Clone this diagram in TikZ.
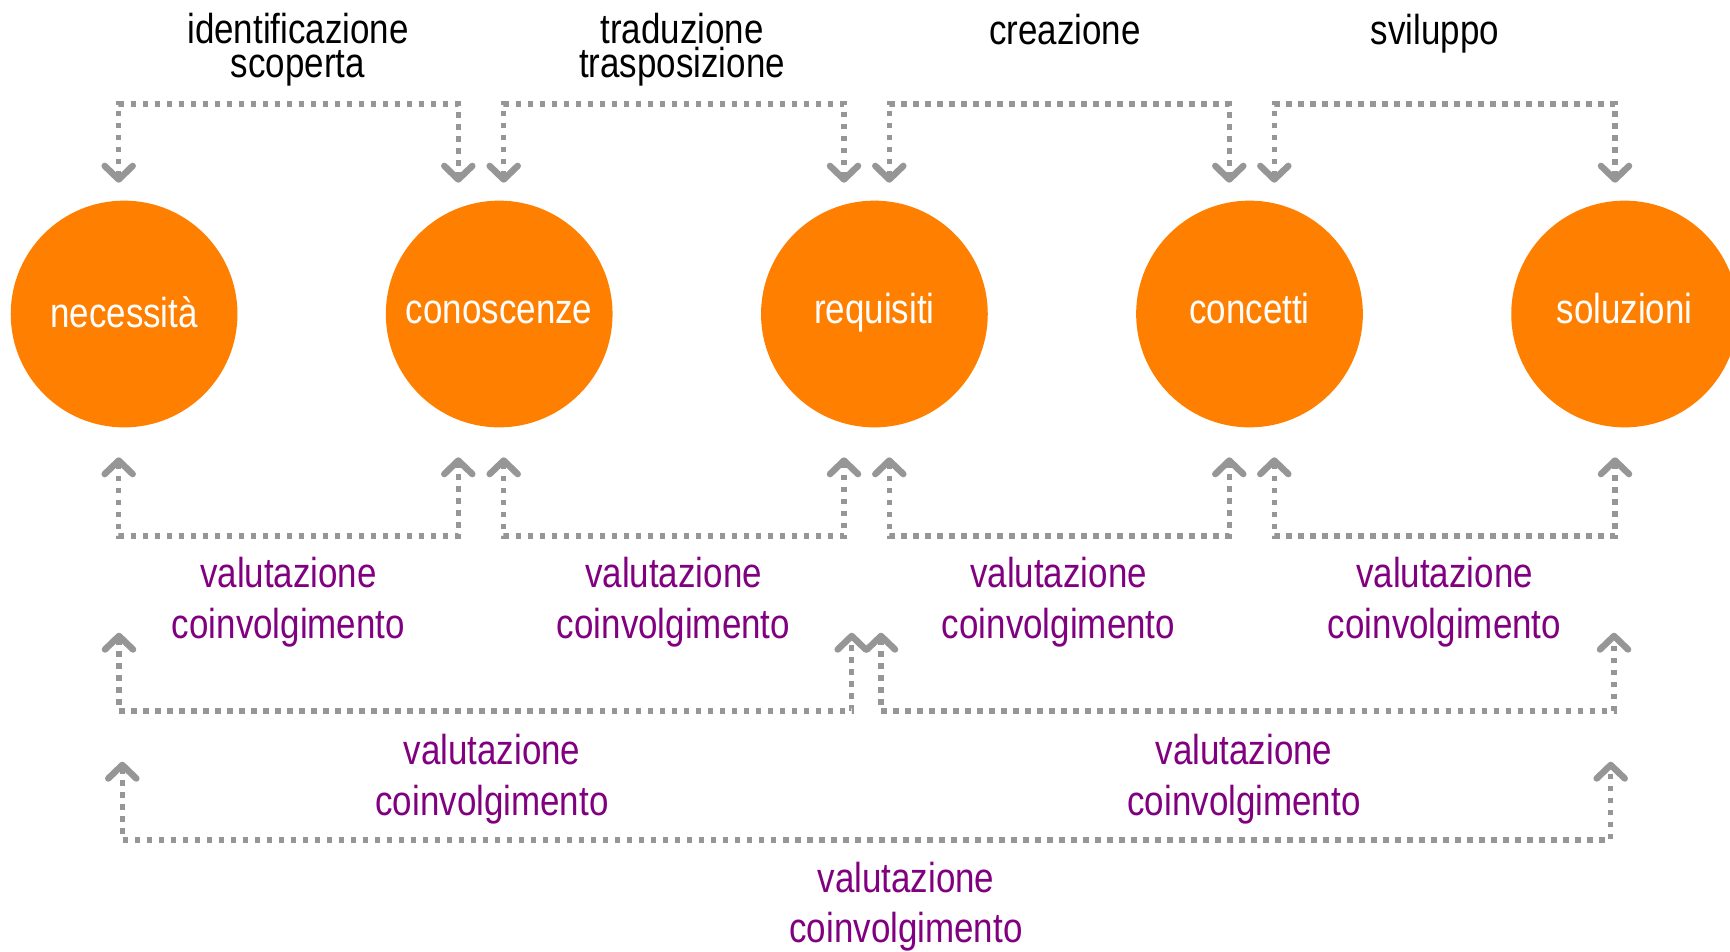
\documentclass[tikz,border=0pt]{standalone}
\usepackage{fontspec}
\setmainfont[FakeStretch=0.835]{Liberation Sans}
\usetikzlibrary{arrows.meta}
\definecolor{orng}{RGB}{255,127,0}
\definecolor{gry}{RGB}{150,150,150}
\definecolor{purp}{RGB}{128,0,128}
\tikzset{
  chev/.tip={Straight Barb[length=0.135cm,width=0.28cm,line width=0.065cm,line cap=round,line join=round]},
  circ/.style={circle, fill=orng, minimum size=2.266cm, inner sep=0pt, text=white,
    font=\fontsize{11.9pt}{14pt}\selectfont, text height=0.18cm, text depth=0cm},
  conn/.style={draw=gry, line width=0.054cm, dash pattern=on 0.056cm off 0.064cm, chev-chev},
  toplbl/.style={anchor=base, inner sep=0pt, text=black, align=center, font=\fontsize{11.9pt}{9.4pt}\selectfont},
  evl/.style={anchor=base, inner sep=0pt, text=purp, font=\fontsize{11.9pt}{14pt}\selectfont},
}
\begin{document}
\begin{tikzpicture}[x=0.01cm, y=-0.01cm]
\useasboundingbox (0,0) rectangle (1730,951);
\clip (0,0) rectangle (1730,951);
% circles
\node[circ, text height=0.26cm] (c1) at (124.1,314) {necessità};
\node[circ] (c2) at (499.2,314) {conoscenze};
\node[circ] (c3) at (874.4,314) {requisiti};
\node[circ] (c4) at (1249.5,314) {concetti};
\node[circ] (c5) at (1624.6,314) {soluzioni};
% levels
\coordinate (ltop) at (0,104);
\coordinate (lb1) at (0,536);
\coordinate (lb2) at (0,711);
\coordinate (lb3) at (0,840);
% top connector ends
\coordinate (t1a) at (118.7,182.7); \coordinate (t1b) at (458.3,182.7);
\coordinate (t2a) at (503.7,182.7); \coordinate (t2b) at (844,182.7);
\coordinate (t3a) at (889.3,182.7); \coordinate (t3b) at (1229.3,182.7);
\coordinate (t4a) at (1274.3,182.7); \coordinate (t4b) at (1615,182.7);
% bottom row 1 ends
\coordinate (b1a) at (118.7,457.3); \coordinate (b1b) at (458.3,457.3);
\coordinate (b2a) at (503.7,457.3); \coordinate (b2b) at (844,457.3);
\coordinate (b3a) at (889.3,457.3); \coordinate (b3b) at (1229.3,457.3);
\coordinate (b4a) at (1274.3,457.3); \coordinate (b4b) at (1615,457.3);
% row 2 ends
\coordinate (m1a) at (119,632.7); \coordinate (m1b) at (851.7,632.7);
\coordinate (m2a) at (881,632.7); \coordinate (m2b) at (1614,632.7);
% row 3 ends
\coordinate (n1a) at (122.3,761.7); \coordinate (n1b) at (1610.7,761.7);
% connectors
\foreach \p in {t1,t2,t3,t4}{
  \draw[conn] (\p a) -- (\p a |- ltop) -- (\p b |- ltop) -- (\p b);
}
\foreach \p in {b1,b2,b3,b4}{
  \draw[conn] (\p a) -- (\p a |- lb1) -- (\p b |- lb1) -- (\p b);
}
\foreach \p in {m1,m2}{
  \draw[conn] (\p a) -- (\p a |- lb2) -- (\p b |- lb2) -- (\p b);
}
\draw[conn] (n1a) -- (n1a |- lb3) -- (n1b |- lb3) -- (n1b);
% top labels
\node[toplbl] (s1) at (298,77) {identificazione\\scoperta};
\node[toplbl] (s2) at (682,77) {traduzione\\trasposizione};
\node[toplbl] (s3) at (1065,44) {creazione};
\node[toplbl] (s4) at (1435,44) {sviluppo};
% evaluation labels
\foreach \x [count=\i] in {288.5,673.5,1058.5,1444.5}{
  \node[evl] (v\i) at (\x,587) {valutazione};
  \node[evl] (w\i) at (\x,638) {coinvolgimento};
}
\node[evl] (v5) at (492,764) {valutazione};
\node[evl] (w5) at (492,815) {coinvolgimento};
\node[evl] (v6) at (1244,764) {valutazione};
\node[evl] (w6) at (1244,815) {coinvolgimento};
\node[evl] (v7) at (906,892) {valutazione};
\node[evl] (w7) at (906,942) {coinvolgimento};
\end{tikzpicture}
\end{document}
